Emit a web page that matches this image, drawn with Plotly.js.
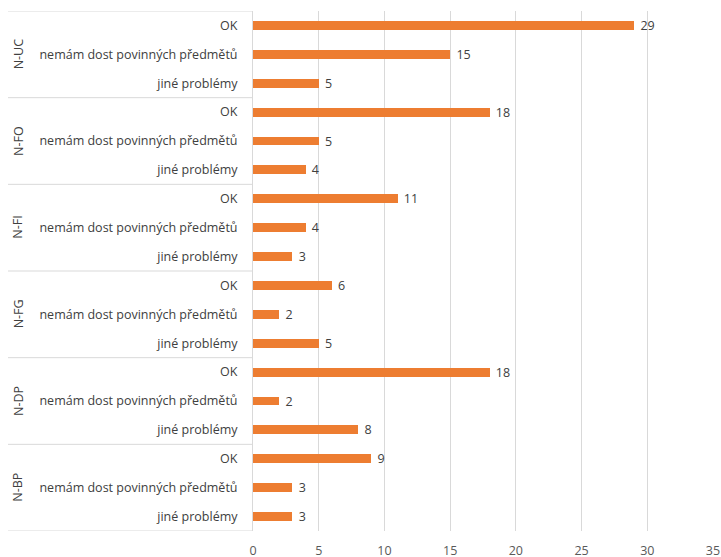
<!DOCTYPE html>
<html>
<head>
<meta charset="utf-8">
<script src="https://cdn.plot.ly/plotly-3.0.1.min.js"></script>
<style>html,body{margin:0;padding:0;background:#fff;}#chart{width:721px;height:557px;}</style>
</head>
<body>
<div id="chart"></div>
<script>
// Data
const groups = ['N-UC', 'N-FO', 'N-FI', 'N-FG', 'N-DP', 'N-BP'];
const subcats = ['OK', 'nemám dost povinných předmětů', 'jiné problémy'];
const okVals = [29, 18, 11, 6, 18, 9];
const nemamVals = [15, 5, 4, 2, 2, 3];
const jineVals = [5, 4, 3, 5, 8, 3];
const xTicks = [0, 5, 10, 15, 20, 25, 30, 35];

const series = [okVals, nemamVals, jineVals];
const xs = [], ys = [], tickvals = [], ticktext = [];
groups.forEach((g, gi) => {
  subcats.forEach((s, si) => {
    const idx = gi * subcats.length + si;
    xs.push(series[si][gi]);
    ys.push(idx);
    tickvals.push(idx);
    ticktext.push(s);
  });
});
const n = xs.length;

const font = 'Open Sans, Lato, sans-serif';
const textColor = '#404040';
const lineColor = '#d9d9d9';

const trace = {
  type: 'bar',
  orientation: 'h',
  x: xs,
  y: ys,
  width: 0.31,
  marker: {color: '#ED7D31'},
  text: xs.map(v => '\u00a0' + v),
  textposition: 'outside',
  constraintext: 'none',
  textfont: {family: font, size: 12.5, color: textColor},
  cliponaxis: false,
  hoverinfo: 'x+y'
};

const plotW = 721 - 253 - 8;
const leftExtent = (253 - 8) / plotW;
const shapes = [];
for (let gi = 0; gi <= groups.length; gi++) {
  const yb = gi * subcats.length - 0.5;
  shapes.push({type: 'line', xref: 'paper', yref: 'y', x0: -leftExtent, x1: 0, y0: yb, y1: yb,
    line: {color: lineColor, width: 1}});
}
const annotations = groups.map((g, gi) => ({
  xref: 'paper', yref: 'y', x: 0, xshift: -235, xanchor: 'center', yanchor: 'middle',
  y: gi * subcats.length + (subcats.length - 1) / 2,
  text: g, textangle: -90, showarrow: false,
  font: {family: font, size: 12.5, color: textColor}
}));

const layout = {
  width: 721, height: 557,
  margin: {l: 253, r: 8, t: 11, b: 26},
  paper_bgcolor: '#fff', plot_bgcolor: '#fff',
  showlegend: false,
  bargap: 0,
  xaxis: {
    range: [0, 35], tickvals: xTicks, ticktext: xTicks.map(String),
    showgrid: true, gridcolor: lineColor, gridwidth: 1,
    zeroline: false, showline: false, ticks: '', ticklabelstandoff: 10,
    tickfont: {family: font, size: 12.5, color: '#595959'},
    fixedrange: true
  },
  yaxis: {
    range: [n - 0.5, -0.5], tickvals: tickvals, ticktext: ticktext,
    showgrid: false, zeroline: false, showline: true, linecolor: lineColor, linewidth: 1,
    ticks: '', ticklabelstandoff: 12,
    tickfont: {family: font, size: 12.5, color: textColor},
    fixedrange: true
  },
  shapes: shapes,
  annotations: annotations
};

Plotly.newPlot('chart', [trace], layout, {displayModeBar: false, staticPlot: true});
</script>
</body>
</html>
